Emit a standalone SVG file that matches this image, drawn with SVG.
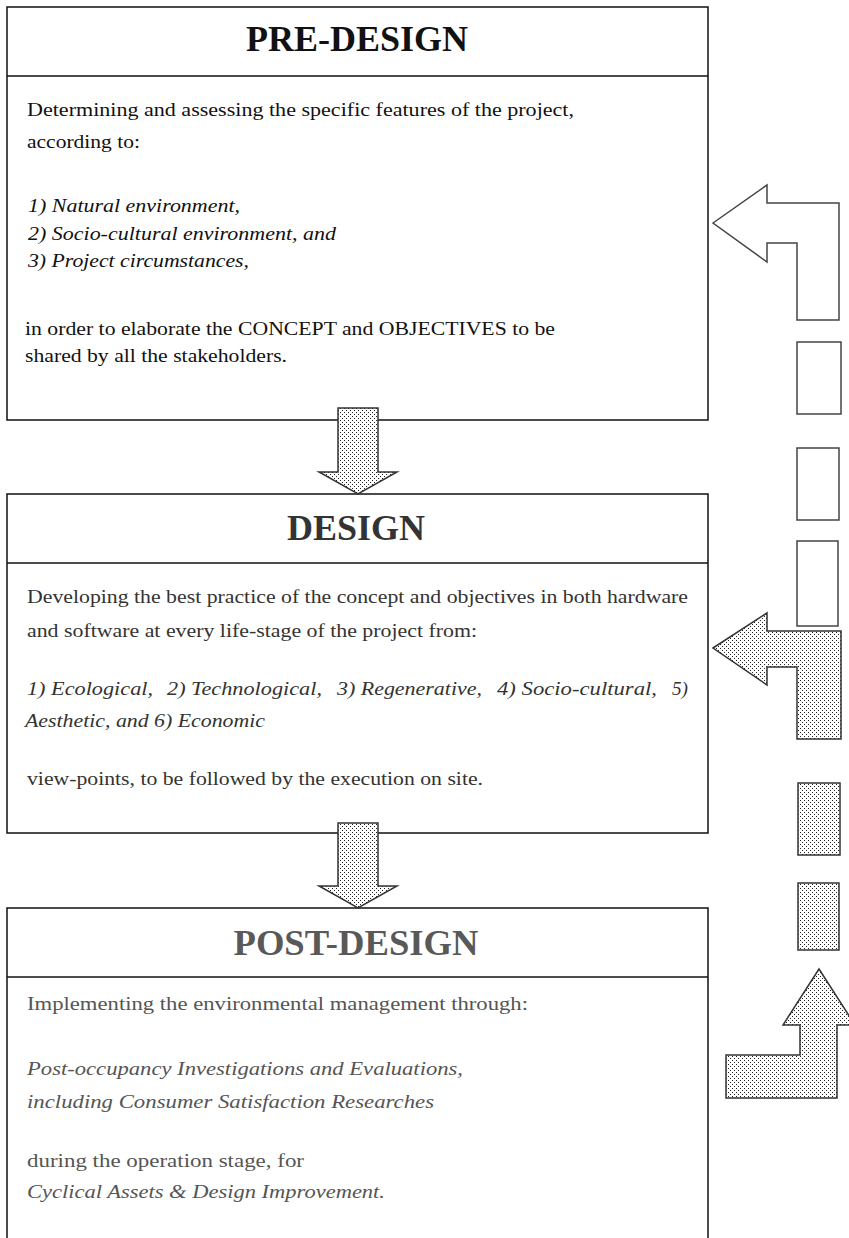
<svg xmlns="http://www.w3.org/2000/svg" width="849" height="1238" viewBox="0 0 849 1238">
<defs>
<pattern id="dots" width="4" height="4" patternUnits="userSpaceOnUse">
<rect width="4" height="4" fill="#fff"/>
<rect x="0" y="0" width="1" height="1" fill="#222"/>
<rect x="2" y="2" width="1" height="1" fill="#222"/>
</pattern>
<style>
.box{fill:#fff;stroke:#111;stroke-width:1.5}
.div{stroke:#111;stroke-width:1.5}
.title{font-family:"Liberation Serif",serif;font-weight:bold;font-size:35px;text-anchor:middle}
.body{font-family:"Liberation Serif",serif;font-size:18px}
.it{font-style:italic}
.outline{fill:#fff;stroke:#444;stroke-width:1.5;stroke-linejoin:miter}
.dotted{fill:url(#dots);stroke:#333;stroke-width:1.5;stroke-linejoin:miter}
</style>
</defs>
<rect width="849" height="1238" fill="#fff"/>

<g id="pre-design">
<rect class="box" x="7" y="7" width="701" height="413"/>
<line class="div" x1="7" y1="76" x2="708" y2="76"/>
<text class="title" x="357" y="51" fill="#111" textLength="222" lengthAdjust="spacingAndGlyphs">PRE-DESIGN</text>
<g class="body" fill="#111">
<text x="27" y="116" textLength="547" lengthAdjust="spacingAndGlyphs">Determining and assessing the specific features of the project,</text>
<text x="27" y="148" textLength="113" lengthAdjust="spacingAndGlyphs">according to:</text>
<text class="it" x="28" y="212" textLength="212" lengthAdjust="spacingAndGlyphs">1) Natural environment,</text>
<text class="it" x="28" y="240" textLength="308" lengthAdjust="spacingAndGlyphs">2) Socio-cultural environment, and</text>
<text class="it" x="28" y="267" textLength="221" lengthAdjust="spacingAndGlyphs">3) Project circumstances,</text>
<text x="25" y="335" textLength="530" lengthAdjust="spacingAndGlyphs">in order to elaborate the CONCEPT and OBJECTIVES to be</text>
<text x="25" y="362" textLength="262" lengthAdjust="spacingAndGlyphs">shared by all the stakeholders.</text>
</g>
</g>

<g id="design">
<rect class="box" x="7" y="494" width="701" height="339"/>
<line class="div" x1="7" y1="563" x2="708" y2="563"/>
<text class="title" x="356" y="540" fill="#333" textLength="138" lengthAdjust="spacingAndGlyphs">DESIGN</text>
<g class="body" fill="#333">
<text x="27" y="603" textLength="661" lengthAdjust="spacingAndGlyphs">Developing the best practice of the concept and objectives in both hardware</text>
<text x="27" y="637" textLength="450" lengthAdjust="spacingAndGlyphs">and software at every life-stage of the project from:</text>
<text class="it" y="695"><tspan x="27" textLength="126" lengthAdjust="spacingAndGlyphs">1) Ecological,</tspan><tspan x="167" textLength="155" lengthAdjust="spacingAndGlyphs">2) Technological,</tspan><tspan x="337" textLength="145" lengthAdjust="spacingAndGlyphs">3) Regenerative,</tspan><tspan x="497" textLength="160" lengthAdjust="spacingAndGlyphs">4) Socio-cultural,</tspan><tspan x="672" textLength="16" lengthAdjust="spacingAndGlyphs">5)</tspan></text>
<text class="it" x="25" y="727" textLength="240" lengthAdjust="spacingAndGlyphs">Aesthetic, and 6) Economic</text>
<text x="27" y="785" textLength="456" lengthAdjust="spacingAndGlyphs">view-points, to be followed by the execution on site.</text>
</g>
</g>

<g id="post-design">
<rect class="box" x="7" y="908" width="701" height="340"/>
<line class="div" x1="7" y1="977" x2="708" y2="977"/>
<text class="title" x="356" y="955" fill="#595959" textLength="245" lengthAdjust="spacingAndGlyphs">POST-DESIGN</text>
<g class="body" fill="#555">
<text x="27" y="1010" textLength="501" lengthAdjust="spacingAndGlyphs">Implementing the environmental management through:</text>
<text class="it" x="27" y="1075" textLength="436" lengthAdjust="spacingAndGlyphs">Post-occupancy Investigations and Evaluations,</text>
<text class="it" x="27" y="1108" textLength="407" lengthAdjust="spacingAndGlyphs">including Consumer Satisfaction Researches</text>
<text x="27" y="1167" textLength="277" lengthAdjust="spacingAndGlyphs">during the operation stage, for</text>
<text class="it" x="27" y="1198" textLength="358" lengthAdjust="spacingAndGlyphs">Cyclical Assets &amp; Design Improvement.</text>
</g>
</g>

<g id="connectors">
<polygon class="dotted" points="338,408 378,408 378,472 397,472 358,494 319,472 338,472"/>
<polygon class="dotted" points="338,823 378,823 378,886 397,886 358,908 319,886 338,886"/>
<polygon class="outline" points="713,223 767,185 767,203 839,203 839,320 797,320 797,243 767,243 767,262"/>
<rect class="outline" x="797" y="342" width="44" height="72"/>
<rect class="outline" x="797" y="448" width="42" height="72"/>
<rect class="outline" x="797" y="541" width="41" height="85"/>
<polygon class="dotted" points="713,648 767,613 767,631 841,631 841,739 797,739 797,667 767,667 767,685"/>
<rect class="dotted" x="798" y="783" width="42" height="72"/>
<rect class="dotted" x="798" y="883" width="41" height="67"/>
<polygon class="dotted" points="819,969 855,1025 837,1025 837,1098 726,1098 726,1055 800,1055 800,1025 783,1025"/>
</g>
</svg>
